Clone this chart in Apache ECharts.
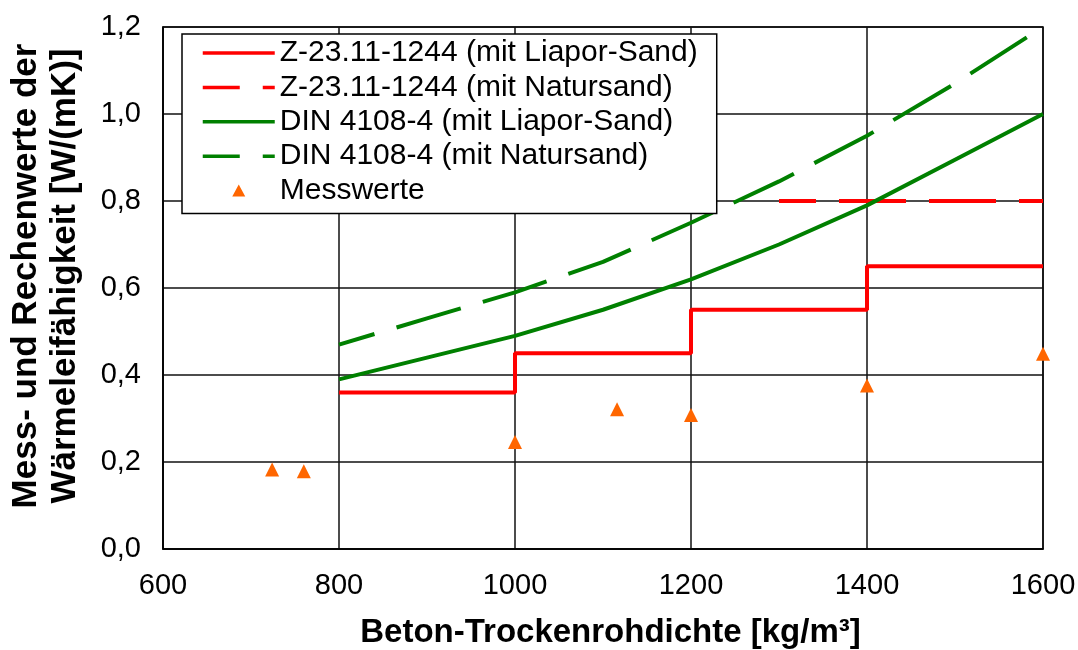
<!DOCTYPE html>
<html>
<head>
<meta charset="utf-8">
<script src="https://cdn.jsdelivr.net/npm/echarts@6/dist/echarts.min.js"></script>
<style>
  html, body { margin: 0; padding: 0; background: #fff; }
  #chart { width: 1078px; height: 650px; }
</style>
</head>
<body>
<div id="chart"></div>
<script>
// Z-23.11-1244 Stufenwerte (mit Liapor-Sand)
const zLiaporX = [800, 1000, 1200, 1400, 1600];
const zLiaporY = [0.36, 0.45, 0.55, 0.65, 0.65];
// Z-23.11-1244 (mit Natursand)
const zNaturX = [1300, 1600];
const zNaturY = [0.80, 0.80];
// DIN 4108-4
const dinX = [800, 900, 1000, 1100, 1200, 1300, 1400, 1500, 1600];
const dinLiaporY = [0.39, 0.44, 0.49, 0.55, 0.62, 0.70, 0.79, 0.895, 1.0];
const dinNaturY = [0.47, 0.53, 0.59, 0.66, 0.75, 0.845, 0.95, 1.07, 1.2];
// Messwerte
const messX = [724, 760, 1000, 1116, 1200, 1400, 1600];
const messY = [0.183, 0.179, 0.246, 0.321, 0.308, 0.376, 0.449];

const seriesNames = [
  "Z-23.11-1244 (mit Liapor-Sand)",
  "Z-23.11-1244 (mit Natursand)",
  "DIN 4108-4 (mit Liapor-Sand)",
  "DIN 4108-4 (mit Natursand)",
  "Messwerte"
];

const font = "'Liberation Sans', Arial, sans-serif";
const pairs = (xs, ys) => xs.map((x, i) => [x, ys[i]]);

// Dreieck mittig im 72x14 Legendenfeld (Eckpunkte nur fuer die Box)
const triIcon = "path://M0,0L0.01,0M29.5,13L36,1L42.5,13ZM72,14L71.99,14";

const chart = echarts.init(document.getElementById("chart"), null, { renderer: "canvas" });

const option = {
  backgroundColor: "#fff",
  animation: false,
  textStyle: { fontFamily: font },
  grid: {
    left: 163, right: 35, top: 27, bottom: 101,
    show: true, borderColor: "#000", borderWidth: 1.5,
    outerBoundsMode: "none"
  },
  legend: {
    orient: "vertical",
    left: 182, top: 34,
    padding: [4, 19, 8, 19],
    itemWidth: 72, itemHeight: 14, itemGap: 4.4,
    backgroundColor: "#fff",
    borderColor: "#000", borderWidth: 1.5, borderRadius: 0,
    lineStyle: { width: 3.5 },
    textStyle: { fontSize: 30, color: "#000", fontFamily: font, lineHeight: 28 },
    data: [
      { name: seriesNames[0], itemStyle: { opacity: 0 } },
      { name: seriesNames[1], itemStyle: { opacity: 0 } },
      { name: seriesNames[2], itemStyle: { opacity: 0 } },
      { name: seriesNames[3], itemStyle: { opacity: 0 } },
      { name: seriesNames[4], icon: triIcon, itemStyle: { opacity: 1 } }
    ]
  },
  xAxis: {
    type: "value", min: 600, max: 1600, interval: 200,
    name: "Beton-Trockenrohdichte [kg/m³]",
    nameLocation: "middle", nameGap: 67,
    nameTextStyle: { fontSize: 33, fontWeight: "bold", color: "#000", fontFamily: font, padding: [0, 0, 0, 15] },
    axisLine: { lineStyle: { color: "#000", width: 1.5 } },
    axisTick: { show: false },
    axisLabel: { fontSize: 29, color: "#000", margin: 22, fontFamily: font, formatter: v => String(v) },
    splitLine: { lineStyle: { color: "#111", width: 1.5 } }
  },
  yAxis: {
    type: "value", min: 0, max: 1.2, interval: 0.2,
    name: "Mess- und Rechenwerte der\nWärmeleifähigkeit [W/(mK)]",
    nameLocation: "middle", nameRotate: 90, nameGap: 78,
    nameTextStyle: {
      fontSize: 35, fontWeight: "bold", color: "#000", lineHeight: 39, fontFamily: font,
      padding: [0, 0, 0, 24]
    },
    axisLine: { lineStyle: { color: "#000", width: 1.5 } },
    axisTick: { show: false },
    axisLabel: {
      fontSize: 29, color: "#000", margin: 22, fontFamily: font,
      formatter: v => v.toFixed(1).replace(".", ",")
    },
    splitLine: { lineStyle: { color: "#111", width: 1.5 } }
  },
  series: [
    {
      name: seriesNames[0], type: "line", step: "end", symbol: "none",
      data: pairs(zLiaporX, zLiaporY),
      lineStyle: { color: "#ff0000", width: 4 },
      itemStyle: { color: "#ff0000" }, z: 3
    },
    {
      name: seriesNames[1], type: "line", symbol: "none",
      data: pairs(zNaturX, zNaturY),
      lineStyle: { color: "#ff0000", width: 4, type: [67, 23], dashOffset: 30 },
      itemStyle: { color: "#ff0000" }, z: 3
    },
    {
      name: seriesNames[2], type: "line", symbol: "none",
      data: pairs(dinX, dinLiaporY),
      lineStyle: { color: "#008000", width: 4 },
      itemStyle: { color: "#008000" }, z: 3
    },
    {
      name: seriesNames[3], type: "line", symbol: "none",
      data: pairs(dinX, dinNaturY),
      lineStyle: { color: "#008000", width: 4, type: [67, 23], dashOffset: 30 },
      itemStyle: { color: "#008000" }, z: 3
    },
    {
      name: seriesNames[4], type: "scatter", symbol: "triangle", symbolSize: 14,
      data: pairs(messX, messY),
      itemStyle: { color: "#ff6600", opacity: 1 }, z: 4
    }
  ]
};

chart.setOption(option);
</script>
</body>
</html>
